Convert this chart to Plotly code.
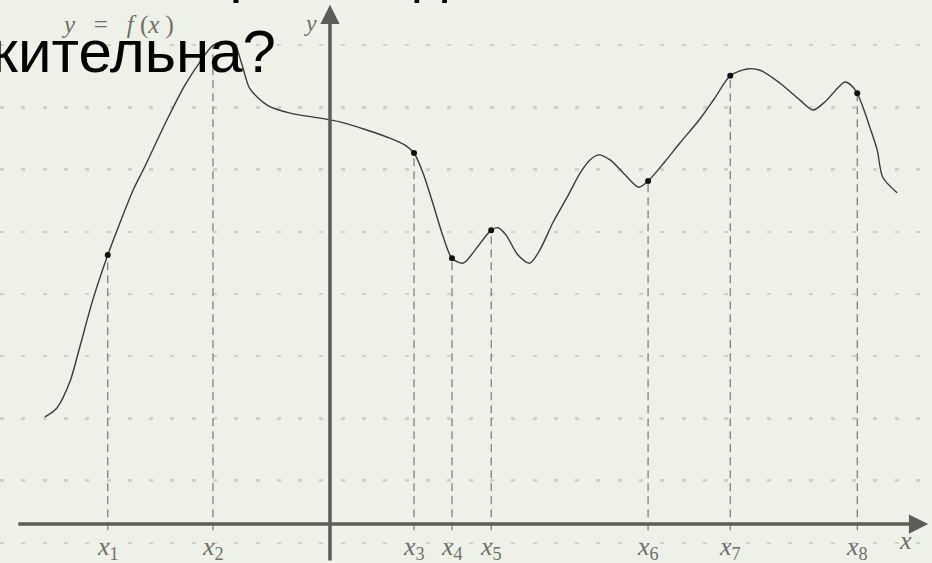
import plotly.graph_objects as go

# Curve y = f(x) (units: one horizontal grid step = 1)
curve_x = [-4.58, -4.39, -4.18, -4.02, -3.81, -3.57, -3.42, -3.16, -3.00, -2.62,
           -2.33, -2.09, -1.88, -1.69, -1.53, -1.41, -1.29, -1.01, -0.64, -0.16,
           0.16, 0.59, 0.96, 1.20, 1.35, 1.49, 1.65, 1.82, 1.96, 2.14,
           2.33, 2.59, 2.70, 2.83, 3.02, 3.21, 3.37, 3.58, 3.81, 4.02,
           4.18, 4.31, 4.50, 4.74, 4.96, 5.11, 5.38, 5.62, 5.93, 6.18,
           6.43, 6.70, 6.91, 7.23, 7.55, 7.76, 7.95, 8.27, 8.37, 8.47,
           8.59, 8.67, 8.79, 8.88, 9.11]
curve_y = [1.72, 1.86, 2.28, 2.84, 3.60, 4.32, 4.72, 5.37, 5.69, 6.49,
           7.05, 7.42, 7.69, 7.74, 7.69, 7.37, 7.00, 6.73, 6.60, 6.52,
           6.46, 6.33, 6.20, 6.09, 5.96, 5.65, 5.16, 4.61, 4.27, 4.19,
           4.40, 4.72, 4.76, 4.64, 4.32, 4.19, 4.40, 4.84, 5.25, 5.64,
           5.85, 5.93, 5.85, 5.61, 5.41, 5.51, 5.82, 6.12, 6.49, 6.84,
           7.20, 7.31, 7.29, 7.08, 6.81, 6.65, 6.78, 7.10, 7.05, 6.92,
           6.62, 6.38, 6.01, 5.57, 5.32]

# Marked abscissas x1..x8 and the function values there
point_labels = ["1", "2", "3", "4", "5", "6", "7", "8"]
point_x = [-3.57, -1.88, 1.35, 1.96, 2.59, 5.11, 6.43, 8.47]
point_y = [4.32, 7.69, 5.96, 4.27, 4.72, 5.51, 7.20, 6.92]
# points drawn as black dots (x2 has none visible)
dot_x = [-3.57, 1.35, 1.96, 2.59, 5.11, 6.43, 8.47]
dot_y = [4.32, 5.96, 4.27, 4.72, 5.51, 7.20, 6.92]

title_line1 = "производная"
title_line2 = "положительна?"

BG = "rgb(238,241,231)"
AXIS = "#5c5c58"
LABEL = "#6f6f6c"

fig = go.Figure()

# dashed guide lines from the x-axis up to the curve
for px, py in zip(point_x, point_y):
    fig.add_trace(go.Scatter(x=[px, px], y=[-0.1, py], mode="lines",
                             line=dict(color="#6e6e6a", width=1.1, dash="8px,5px"),
                             hoverinfo="skip", showlegend=False))

fig.add_trace(go.Scatter(x=curve_x, y=curve_y, mode="lines",
                         line=dict(color="#3a3a38", width=1.4, shape="spline", smoothing=0.8),
                         hoverinfo="skip", showlegend=False))

fig.add_trace(go.Scatter(x=dot_x, y=dot_y, mode="markers",
                         marker=dict(color="#111111", size=6),
                         hoverinfo="skip", showlegend=False))

ann = []
# axes with arrows
ann.append(dict(x=9.61, y=0, ax=-5.03, ay=0, xref="x", yref="y", axref="x", ayref="y",
                text="", showarrow=True, arrowhead=2, arrowsize=1.1, arrowwidth=3.5,
                arrowcolor=AXIS, standoff=0))
ann.append(dict(x=0, y=8.34, ax=0, ay=-0.61, xref="x", yref="y", axref="x", ayref="y",
                text="", showarrow=True, arrowhead=2, arrowsize=1.1, arrowwidth=3.5,
                arrowcolor=AXIS, standoff=0))

serif = "Liberation Serif, DejaVu Serif, serif"
for lab, px in zip(point_labels, point_x):
    ann.append(dict(x=px, y=-0.38, xref="x", yref="y", showarrow=False,
                    text="<i>x</i><sub>%s</sub>" % lab,
                    font=dict(family=serif, size=26, color=LABEL),
                    xanchor="center", yanchor="middle"))
ann.append(dict(x=9.25, y=-0.27, xref="x", yref="y", showarrow=False, text="<i>x</i>",
                font=dict(family=serif, size=26, color=LABEL), xanchor="center", yanchor="middle"))
ann.append(dict(x=-0.31, y=8.05, xref="x", yref="y", showarrow=False, text="<i>y</i>",
                font=dict(family=serif, size=24, color=LABEL), xanchor="center", yanchor="middle"))
ann.append(dict(x=-3.41, y=8.02, xref="x", yref="y", showarrow=False,
                text="<i>y</i>&nbsp;&nbsp;&nbsp;=&nbsp;&nbsp;&nbsp;<i>f</i>&nbsp;(<i>x</i>&nbsp;)",
                font=dict(family=serif, size=25, color=LABEL), xanchor="center", yanchor="middle"))

sans = "Liberation Sans, Arial, sans-serif"
ann.append(dict(x=0.2103, y=1.052, xref="paper", yref="paper", showarrow=False,
                text=title_line1, font=dict(family=sans, size=58, color="black"),
                xanchor="left", yanchor="middle"))
ann.append(dict(x=0.2985, y=0.909, xref="paper", yref="paper", showarrow=False,
                text=title_line2, font=dict(family=sans, size=60, color="black"),
                xanchor="right", yanchor="middle"))

fig.update_layout(
    width=932, height=563,
    margin=dict(l=0, r=0, t=0, b=0),
    paper_bgcolor=BG, plot_bgcolor=BG,
    showlegend=False,
    annotations=ann,
    xaxis=dict(range=[-5.301, 9.671], showgrid=False, zeroline=False,
               showticklabels=False, showline=False, ticks=""),
    yaxis=dict(range=[-0.6265, 8.418], showgrid=True, gridcolor="#cfd2c7",
               griddash="4px,17.3px", gridwidth=2.5, tick0=-0.305, dtick=1,
               zeroline=False, showticklabels=False, showline=False, ticks=""),
)

fig.write_html("out.html", config={"displayModeBar": False, "staticPlot": True},
               post_script="document.body.style.margin='0';")
